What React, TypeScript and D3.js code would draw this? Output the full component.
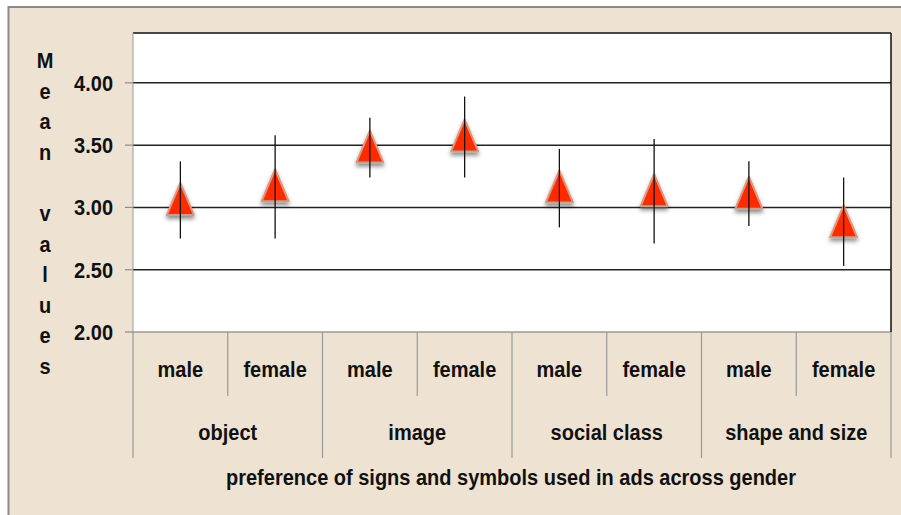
import React from "react";
import * as d3 from "d3";

const groups = ["object", "image", "social class", "shape and size"];
const genders = ["male", "female"];
const means = [3.06, 3.17, 3.48, 3.57, 3.16, 3.13, 3.11, 2.88];
const upper = [3.37, 3.58, 3.72, 3.89, 3.47, 3.55, 3.37, 3.24];
const lower = [2.75, 2.75, 3.24, 3.24, 2.84, 2.71, 2.85, 2.53];
const yTicks = [2.0, 2.5, 3.0, 3.5, 4.0];
const xTitle = "preference of signs and symbols used in ads across gender";
const yTitle = "Mean values";

const W = 901;
const H = 515;
const L = 133;
const R = 891;
const T = 33;
const B = 332;
const FONT = "'Liberation Sans', Arial, sans-serif";
const BG = "#EEE3D3";

function Label(props: { x: number; y: number; anchor?: string; children: React.ReactNode }) {
  return (
    <text
      transform={`translate(${props.x},${props.y}) scale(1,1.1)`}
      dy="0.36em"
      textAnchor={props.anchor || "middle"}
      fontSize={20}
      fontWeight="bold"
      fill="#111"
    >
      {props.children}
    </text>
  );
}

export default function App() {
  const cats = groups.flatMap((g) => genders.map((s) => `${g}|${s}`));
  const x = d3.scaleBand<string>().domain(cats).range([L, R]);
  const xg = d3.scaleBand<string>().domain(groups).range([L, R]);
  const y = d3.scaleLinear().domain([2, 4.4]).range([B, T]);
  const letters = yTitle.split("");

  return (
    <svg
      width={W}
      height={H}
      style={{ position: "absolute", left: 0, top: 0, background: "#fff" }}
      fontFamily={FONT}
    >
      <defs>
        <filter id="sh" x="-50%" y="-50%" width="200%" height="200%">
          <feDropShadow dx="0" dy="3" stdDeviation="2" floodColor="#000" floodOpacity="0.45" />
        </filter>
      </defs>
      <rect x={8.5} y={7} width={W} height={H} fill={BG} stroke="#8a8a8a" strokeWidth={2} />
      <rect x={L} y={T} width={R - L} height={B - T} fill="#fff" />
      {yTicks.map((t) => (
        <g key={t}>
          <line x1={L} x2={R} y1={y(t)} y2={y(t)} stroke={t === 2 ? "#9a9a9a" : "#222"} strokeWidth={1.5} />
          <line x1={L - 8} x2={L} y1={y(t)} y2={y(t)} stroke="#8a8a8a" strokeWidth={1.2} />
          <Label x={113} y={y(t)} anchor="end">{t.toFixed(2)}</Label>
        </g>
      ))}
      <line x1={L} x2={R} y1={T} y2={T} stroke="#111" strokeWidth={1.5} />
      <line x1={R} x2={R} y1={T} y2={B} stroke="#111" strokeWidth={1.5} />
      <line x1={L} x2={L} y1={T} y2={B} stroke="#999" strokeWidth={1} />
      {letters.map((c, i) => (
        <Label key={i} x={45} y={60 + i * 30.6}>{c}</Label>
      ))}
      {cats.map((c, i) => {
        const cx = (x(c) as number) + x.bandwidth() / 2;
        const cy = y(means[i]);
        const tri = `M${cx},${cy - 17}L${cx + 13.5},${cy + 15}L${cx - 13.5},${cy + 15}Z`;
        return (
          <g key={c}>
            <path d={tri} fill="#FF2A00" stroke="#D49A84" strokeWidth={2} strokeLinejoin="round" filter="url(#sh)" />
            <line x1={cx} x2={cx} y1={y(upper[i])} y2={y(lower[i])} stroke="#111" strokeWidth={1.3} />
          </g>
        );
      })}
      {cats.map((c, i) => {
        const x0 = x(c) as number;
        const cx = x0 + x.bandwidth() / 2;
        return (
          <g key={"l" + c}>
            {i % 2 === 1 && <line x1={x0} x2={x0} y1={B} y2={396} stroke="#999" strokeWidth={1.2} />}
            <Label x={cx} y={369}>{c.split("|")[1]}</Label>
          </g>
        );
      })}
      {groups.map((g) => {
        const x0 = xg(g) as number;
        return (
          <g key={g}>
            <line x1={x0} x2={x0} y1={B} y2={458} stroke="#999" strokeWidth={1.2} />
            <Label x={x0 + xg.bandwidth() / 2} y={432}>{g}</Label>
          </g>
        );
      })}
      <line x1={R} x2={R} y1={B} y2={458} stroke="#999" strokeWidth={1.2} />
      <Label x={(L + R) / 2 - 1} y={477}>{xTitle}</Label>
    </svg>
  );
}
